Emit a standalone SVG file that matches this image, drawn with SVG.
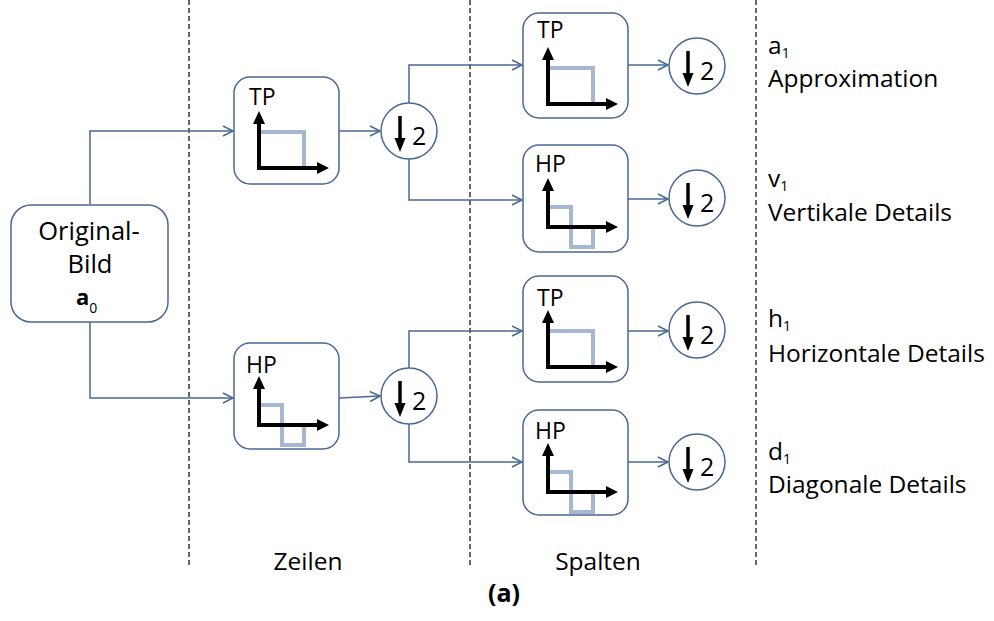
<svg xmlns="http://www.w3.org/2000/svg" xmlns:xlink="http://www.w3.org/1999/xlink" width="994" height="621" viewBox="0 0 994 621">
  <style>
    text { font-family: "Open Sans", "Liberation Sans", sans-serif; fill: #000; }
    .box { fill: #fff; stroke: #4a6894; stroke-width: 1.5; }
    .ring { fill: #fff; stroke: #4a6894; stroke-width: 1.5; }
    .wire { fill: none; stroke: #4a6894; stroke-width: 1.5; marker-end: url(#chev); }
    .sep { fill: none; stroke: #000; stroke-width: 1.2; stroke-dasharray: 5 3; }
    .axis { fill: none; stroke: #000; stroke-width: 4; }
    .wave { fill: none; stroke: #a6b7d2; stroke-width: 4; }
    .lbl { font-size: 24.5px; }
    .flt { font-size: 23px; }
    .sub { font-size: 14px; }
  </style>
  <defs>
    <marker id="chev" markerUnits="userSpaceOnUse" markerWidth="14" markerHeight="14" refX="11" refY="6" orient="auto">
      <path d="M1,1 L11,6 L1,11" fill="none" stroke="#4a6894" stroke-width="1.5"/>
    </marker>
    <!-- coordinate axes shared by every filter box -->
    <g id="axesTP">
      <path class="axis" d="M25,93 V44 M23,91 H85"/>
      <path d="M19,47 L31,47 L25,34 Z M83,85 L83,97 L95,91 Z" fill="#000"/>
    </g>
    <g id="axesHP">
      <path class="axis" d="M25,84 V43 M23,82 H85"/>
      <path d="M19,46 L31,46 L25,33 Z M83,76 L83,88 L95,82 Z" fill="#000"/>
    </g>
    <!-- low-pass and high-pass response sketches -->
    <g id="lowpass">
      <path class="wave" d="M25,55 H70 V91"/>
      <use xlink:href="#axesTP"/>
    </g>
    <g id="highpass">
      <path class="wave" d="M25,62 H48 V102 H70 V82"/>
      <use xlink:href="#axesHP"/>
    </g>
    <!-- downsampling symbol inside a circle, centred on 0,0 -->
    <g id="down2">
      <circle class="ring" cx="0" cy="0" r="28"/>
      <path d="M-9,-15 V9" stroke="#000" stroke-width="3.5"/>
      <path d="M-14.5,7 L-3.5,7 L-9,21 Z" fill="#000"/>
      <text x="3" y="14" style="font-size:25px">2</text>
    </g>
  </defs>

  <!-- stage separators -->
  <g id="separators">
    <line class="sep" x1="189" y1="0" x2="189" y2="568"/>
    <line class="sep" x1="470" y1="0" x2="470" y2="568"/>
    <line class="sep" x1="756" y1="0" x2="756" y2="568"/>
  </g>

  <!-- connectors -->
  <g id="connectors">
    <path class="wire" d="M90,204 V131 H233"/>
    <path class="wire" d="M90,322 V398 H233"/>
    <path class="wire" d="M339,131 H380"/>
    <path class="wire" d="M339,398 L380,396"/>
    <path class="wire" d="M409,103 V65 H522"/>
    <path class="wire" d="M409,159 V200 H522"/>
    <path class="wire" d="M409,368 V331 H522"/>
    <path class="wire" d="M409,424 V462 H522"/>
    <path class="wire" d="M628,65 H668"/>
    <path class="wire" d="M628,199 H668"/>
    <path class="wire" d="M628,331 H668"/>
    <path class="wire" d="M628,462 H668"/>
  </g>

  <!-- input image -->
  <g id="original">
    <rect class="box" x="11" y="205" width="157" height="117" rx="20"/>
    <text class="lbl" x="89" y="240" text-anchor="middle" style="font-size:25.5px">Original-</text>
    <text class="lbl" x="90" y="273" text-anchor="middle" style="font-size:25.5px">Bild</text>
    <text x="76" y="305" style="font-size:22px;font-weight:bold">a<tspan class="sub" dy="8" style="font-weight:normal">0</tspan></text>
  </g>

  <!-- row filters -->
  <g id="row-tp" transform="translate(234,77)">
    <rect class="box" x="0" y="0" width="105" height="107" rx="16"/>
    <text class="flt" x="15" y="28">TP</text>
    <use xlink:href="#lowpass"/>
  </g>
  <g id="row-hp" transform="translate(234,343)">
    <rect class="box" x="0" y="0" width="105" height="106" rx="16"/>
    <text class="flt" x="12" y="30">HP</text>
    <use xlink:href="#highpass"/>
  </g>

  <!-- row downsamplers -->
  <g id="row-down-1" transform="translate(409,131)"><use xlink:href="#down2"/></g>
  <g id="row-down-2" transform="translate(409,396)"><use xlink:href="#down2"/></g>

  <!-- column filters -->
  <g id="col-tp-1" transform="translate(523,13)">
    <rect class="box" x="0" y="0" width="105" height="105" rx="16"/>
    <text class="flt" x="14" y="25">TP</text>
    <use xlink:href="#lowpass"/>
  </g>
  <g id="col-hp-1" transform="translate(523,145)">
    <rect class="box" x="0" y="0" width="105" height="107" rx="16"/>
    <text class="flt" x="12" y="27">HP</text>
    <use xlink:href="#highpass"/>
  </g>
  <g id="col-tp-2" transform="translate(523,276)">
    <rect class="box" x="0" y="0" width="105" height="106" rx="16"/>
    <text class="flt" x="14" y="30">TP</text>
    <use xlink:href="#lowpass"/>
  </g>
  <g id="col-hp-2" transform="translate(523,410)">
    <rect class="box" x="0" y="0" width="105" height="105" rx="16"/>
    <text class="flt" x="12" y="29">HP</text>
    <use xlink:href="#highpass"/>
  </g>

  <!-- column downsamplers -->
  <g id="col-down-1" transform="translate(697,66)"><use xlink:href="#down2"/></g>
  <g id="col-down-2" transform="translate(697,198)"><use xlink:href="#down2"/></g>
  <g id="col-down-3" transform="translate(697,330)"><use xlink:href="#down2"/></g>
  <g id="col-down-4" transform="translate(697,462)"><use xlink:href="#down2"/></g>

  <!-- sub-band labels -->
  <g id="out-a">
    <text class="lbl" x="768" y="54">a<tspan class="sub" dy="4">1</tspan></text>
    <text class="lbl" x="768" y="87">Approximation</text>
  </g>
  <g id="out-v">
    <text class="lbl" x="768" y="187">v<tspan class="sub" dy="4">1</tspan></text>
    <text class="lbl" x="768" y="221">Vertikale Details</text>
  </g>
  <g id="out-h">
    <text class="lbl" x="768" y="327">h<tspan class="sub" dy="4">1</tspan></text>
    <text class="lbl" x="768" y="362">Horizontale Details</text>
  </g>
  <g id="out-d">
    <text class="lbl" x="768" y="460">d<tspan class="sub" dy="4">1</tspan></text>
    <text class="lbl" x="768" y="493">Diagonale Details</text>
  </g>

  <!-- stage captions -->
  <g id="captions">
    <text class="lbl" x="308" y="570" text-anchor="middle">Zeilen</text>
    <text class="lbl" x="598" y="570" text-anchor="middle">Spalten</text>
    <text x="504" y="602" text-anchor="middle" style="font-size:25px;font-weight:bold">(a)</text>
  </g>
</svg>
